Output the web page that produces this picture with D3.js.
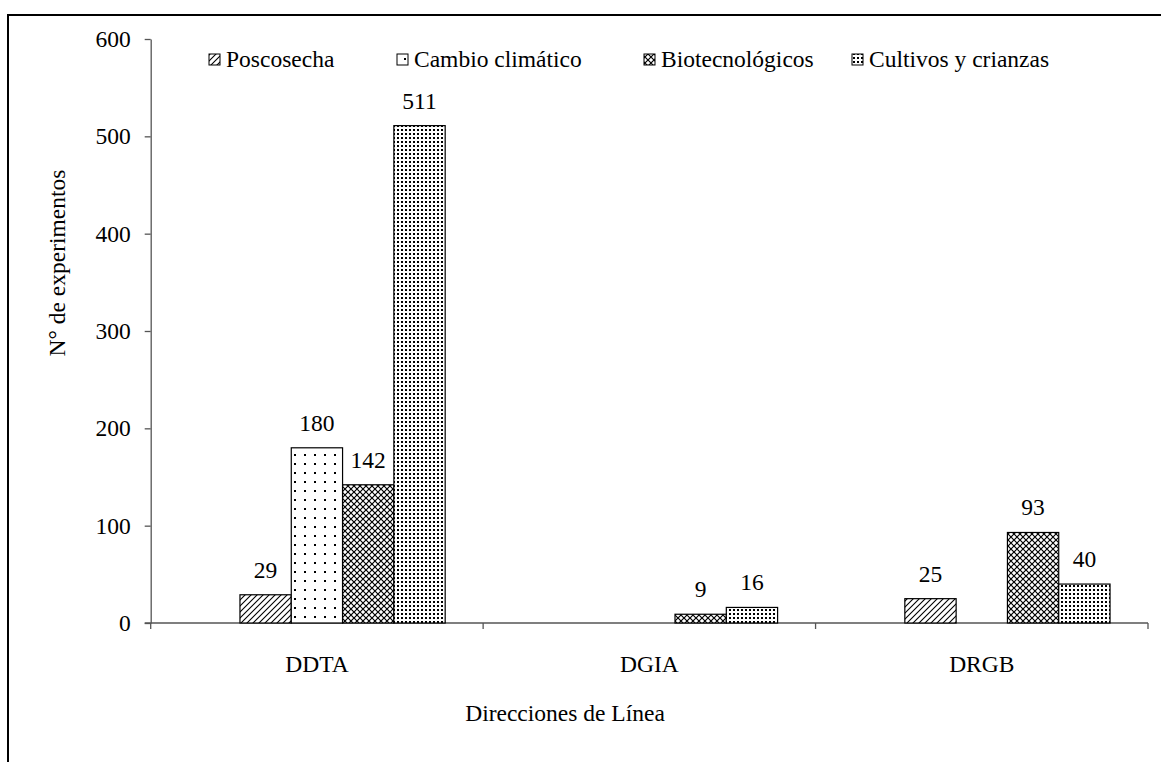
<!DOCTYPE html>
<html>
<head>
<meta charset="utf-8">
<script src="https://cdn.jsdelivr.net/npm/d3@7"></script>
<style>
  body { margin: 0; background: #fff; }
  text { font-family: "Liberation Serif", "Times New Roman", serif; fill: #000; }
  .axis path, .axis line { stroke: #555; stroke-width: 1.3; }
  .axis text { font-size: 23.5px; font-family: "Liberation Serif", serif; }
</style>
</head>
<body>
<svg id="chart" width="1161" height="762"></svg>
<script>
var categories = ["DDTA", "DGIA", "DRGB"];
var series = ["Poscosecha", "Cambio climático", "Biotecnológicos", "Cultivos y crianzas"];
// null = no bar
var values = [
  [29, null, 25],
  [180, null, null],
  [142, 9, 93],
  [511, 16, 40]
];
var yTicks = [0, 100, 200, 300, 400, 500, 600];

var plotLeft = 150.7, plotRight = 1148, plotTop = 39, plotBottom = 623;
var fontSize = "23.5px";

var svg = d3.select("#chart");

// patterns
var defs = svg.append("defs");
var p0 = defs.append("pattern").attr("id", "pat0").attr("patternUnits", "userSpaceOnUse")
  .attr("width", 6).attr("height", 6);
p0.append("rect").attr("width", 6).attr("height", 6).attr("fill", "#fff");
p0.append("path").attr("d", "M-1,7 L7,-1 M-4,4 L4,-4 M2,10 L10,2")
  .attr("stroke", "#000").attr("stroke-width", 1.1);

var p1 = defs.append("pattern").attr("id", "pat1").attr("patternUnits", "userSpaceOnUse")
  .attr("width", 10).attr("height", 9);
p1.append("rect").attr("width", 10).attr("height", 9).attr("fill", "#fff");
p1.append("rect").attr("x", 4).attr("y", 4).attr("width", 2).attr("height", 2).attr("fill", "#000");

var p2 = defs.append("pattern").attr("id", "pat2").attr("patternUnits", "userSpaceOnUse")
  .attr("width", 6).attr("height", 6);
p2.append("rect").attr("width", 6).attr("height", 6).attr("fill", "#fff");
p2.append("path").attr("d", "M0,0 L6,6 M6,0 L0,6")
  .attr("stroke", "#000").attr("stroke-width", 1.2);

var p3 = defs.append("pattern").attr("id", "pat3").attr("patternUnits", "userSpaceOnUse")
  .attr("width", 4).attr("height", 4);
p3.append("rect").attr("width", 4).attr("height", 4).attr("fill", "#fff");
p3.append("rect").attr("x", 1).attr("y", 1).attr("width", 2).attr("height", 2).attr("fill", "#000");

var fills = ["url(#pat0)", "url(#pat1)", "url(#pat2)", "url(#pat3)"];

// outer border
svg.append("rect").attr("x", 8).attr("y", 15).attr("width", 1200).attr("height", 800)
  .attr("fill", "none").attr("stroke", "#000").attr("stroke-width", 2);

var x0 = d3.scaleBand().domain(categories).range([plotLeft, plotRight]);
// 5 slots per category, first one empty
var x1 = d3.scaleBand().domain(d3.range(5)).range([0, x0.bandwidth()]).paddingOuter(0.74);
var y = d3.scaleLinear().domain([0, 600]).range([plotBottom, plotTop]);

// y axis
svg.append("g").attr("class", "axis")
  .attr("transform", "translate(" + plotLeft + ",0)")
  .call(d3.axisLeft(y).tickValues(yTicks).tickSize(6).tickSizeOuter(0).tickPadding(14));

// x axis
var xg = svg.append("g").attr("class", "axis")
  .attr("transform", "translate(0," + plotBottom + ")")
  .call(d3.axisBottom(x0).tickSize(0).tickPadding(32));
xg.select(".domain").attr("d", "M" + (plotLeft - 6) + ",0H" + plotRight);
var bounds = categories.map(function (c) { return x0(c); }).concat([plotRight]);
xg.selectAll(".btick").data(bounds).enter().append("line")
  .attr("class", "btick")
  .attr("x1", function (d) { return d; }).attr("x2", function (d) { return d; })
  .attr("y1", 0).attr("y2", 6);

// bars
series.forEach(function (s, si) {
  var g = svg.append("g");
  var data = categories.map(function (c, ci) { return { c: c, v: values[si][ci] }; })
    .filter(function (d) { return d.v !== null; });
  g.selectAll("rect").data(data).enter().append("rect")
    .attr("x", function (d) { return x0(d.c) + x1(si + 1); })
    .attr("y", function (d) { return y(d.v); })
    .attr("width", x1.bandwidth())
    .attr("height", function (d) { return plotBottom - y(d.v); })
    .attr("fill", fills[si])
    .attr("stroke", "#000").attr("stroke-width", 1.2);
  g.selectAll("text").data(data).enter().append("text")
    .attr("x", function (d) { return x0(d.c) + x1(si + 1) + x1.bandwidth() / 2; })
    .attr("y", function (d) { return y(d.v) - 17; })
    .attr("text-anchor", "middle")
    .style("font-size", fontSize)
    .text(function (d) { return d.v; });
});

// legend
var legendX = [209, 397, 644, 852];
var leg = svg.append("g");
series.forEach(function (s, i) {
  leg.append("rect").attr("x", legendX[i]).attr("y", 54).attr("width", 11).attr("height", 11)
    .attr("fill", fills[i]).attr("stroke", "#000").attr("stroke-width", 1);
  leg.append("text").attr("x", legendX[i] + 17).attr("y", 67)
    .style("font-size", fontSize).text(s);
});

// axis titles
svg.append("text").attr("text-anchor", "middle")
  .attr("transform", "translate(65,263) rotate(-90)")
  .style("font-size", fontSize).text("N° de experimentos");
svg.append("text").attr("text-anchor", "middle")
  .attr("x", 565).attr("y", 721)
  .style("font-size", fontSize).text("Direcciones de Línea");
</script>
</body>
</html>
